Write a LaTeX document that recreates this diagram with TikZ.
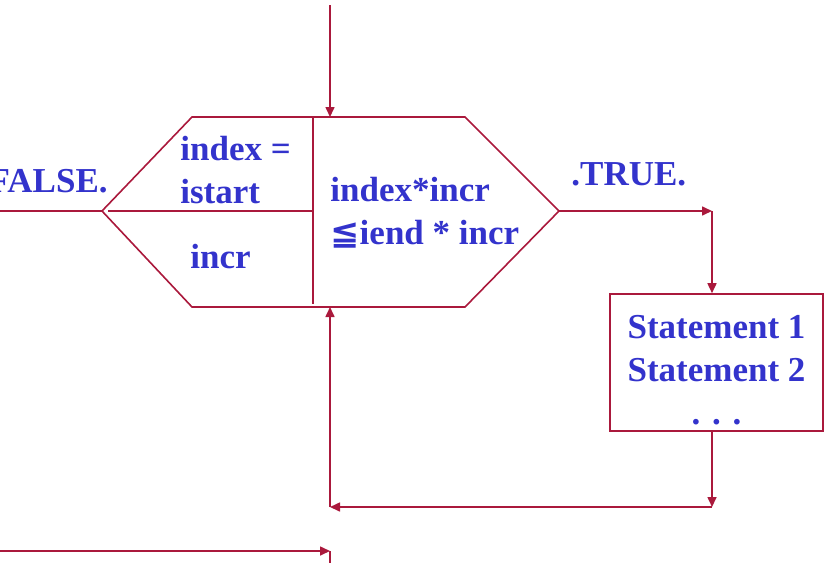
\documentclass[tikz,border=0pt]{standalone}
\usepackage{fontspec}
\setmainfont{Liberation Serif}
\newfontfamily\symfont{DejaVu Sans}
\usetikzlibrary{arrows.meta}
\definecolor{flowred}{RGB}{170,25,60}
\definecolor{flowblue}{RGB}{51,51,204}
\begin{document}
\begin{tikzpicture}[x=0.5pt,y=-0.5pt,every node/.style={font=\bfseries\fontsize{17.5}{21.5}\selectfont,text=flowblue,inner sep=0pt},flow/.style={draw=flowred,line width=0.8pt},arr/.style={flow,-{Triangle[length=5pt,width=4.5pt]}},txt/.style={align=left,anchor=north west},stmt/.style={draw=flowred,line width=0.8pt,align=center,minimum width=106.5pt,minimum height=68.5pt}]
\useasboundingbox (0,0) rectangle (829,562);
\clip (0,0) rectangle (829,562);
% do-loop hexagon
\coordinate (lp) at (102,211);
\coordinate (tl) at (192,117);
\coordinate (tr) at (465,117);
\coordinate (rp) at (559,211);
\coordinate (br) at (465,307);
\coordinate (bl) at (192,307);
\coordinate (top) at (330,117);
\coordinate (bot) at (330,307);
\coordinate (divt) at (313,117);
\coordinate (divb) at (313,304);
\coordinate (divl) at (108,211);
\coordinate (divr) at (313,211);
\draw[flow] (lp) -- (tl) -- (tr) -- (rp) -- (br) -- (bl) -- cycle;
\draw[flow] (divt) -- (divb);
\draw[flow] (divl) -- (divr);
\node[txt] (init) at (180,136) {index =\\istart};
\node[anchor=base west] (incr) at (190,268) {incr};
\node[txt] (cond) at (330,177) {index*incr\\{\symfont ≦}iend * incr};
% outside
\coordinate (in) at (330,5);
\coordinate (false) at (0,211);
\coordinate (tc) at (712,211);
\coordinate (ret) at (712,507);
\coordinate (lc) at (330,507);
\coordinate (exit) at (0,551);
\coordinate (out) at (330,551);
\coordinate (outend) at (330,575);
\node[anchor=base east] (flab) at (108,192) {.FALSE.};
\node[anchor=base west] (tlab) at (571,185) {.TRUE.};
\node[stmt] (body) at (716.5,362.5) {\rule{0pt}{19.5pt}Statement 1\\Statement 2\\. . .};
\draw[arr] (in) -- (top);
\draw[flow] (false) -- (lp);
\draw[arr] (rp) -- (tc);
\draw[arr] (tc) -- (tc |- body.north);
\draw[arr] (tc |- body.south) -- (ret);
\draw[arr] (ret) -- (lc);
\draw[arr] (lc) -- (bot);
\draw[arr] (exit) -- (out);
\draw[flow] (out) -- (outend);
\end{tikzpicture}
\end{document}
